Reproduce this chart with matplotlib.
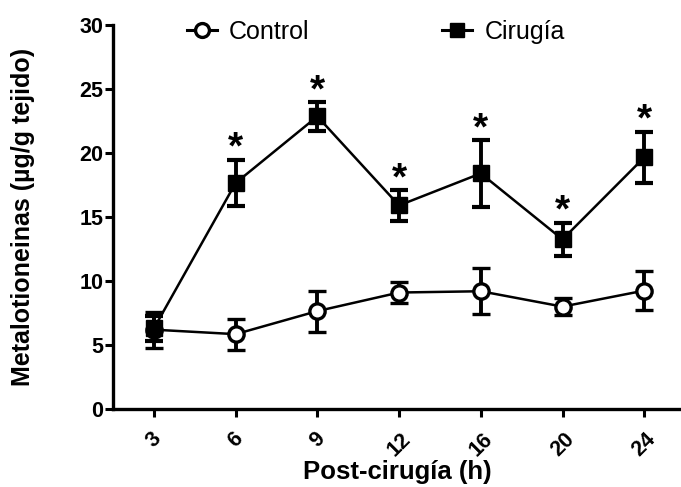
import matplotlib
matplotlib.use("Agg")
import matplotlib.pyplot as plt
from matplotlib.lines import Line2D

plt.rcParams['font.family'] = ['Liberation Sans', 'DejaVu Sans']

hours = ["3", "6", "9", "12", "16", "20", "24"]
control_mean = [6.2, 5.85, 7.65, 9.1, 9.2, 8.0, 9.25]
control_err = [1.4, 1.2, 1.6, 0.8, 1.8, 0.65, 1.55]
cirugia_mean = [6.3, 17.65, 22.85, 15.9, 18.4, 13.25, 19.65]
cirugia_err = [0.95, 1.8, 1.1, 1.2, 2.6, 1.3, 2.0]
significant = [False, True, True, True, True, True, True]

x = list(range(len(hours)))

fig = plt.figure(figsize=(6.81, 4.87), dpi=100)
ax = fig.add_axes([0.166, 0.160, 0.834, 0.789])

err_kw = dict(color='black', lw=1.8, elinewidth=2.8, capsize=6.5, capthick=3)

ax.errorbar(x, control_mean, yerr=control_err, marker='o', ms=11,
            mfc='white', mec='black', mew=2.4, zorder=3, **err_kw)
ax.errorbar(x, cirugia_mean, yerr=cirugia_err, marker='s', ms=11,
            mfc='black', mec='black', zorder=4, **err_kw)

# asterisks above the surgery error bars
for xi, m, e, s in zip(x, cirugia_mean, cirugia_err, significant):
    if s:
        ax.annotate('*', xy=(xi, m + e), xytext=(0, -5), textcoords='offset points',
                    ha='center', va='bottom', fontsize=28, fontweight='bold')

ax.set_xlim(-0.5, 6.45)
ax.set_ylim(0, 30)
ax.set_yticks([0, 5, 10, 15, 20, 25, 30])
ax.set_xticks(x)
ax.set_xticklabels(hours, rotation=45, ha='center', va='top')

for side in ['top', 'right']:
    ax.spines[side].set_visible(False)
for side in ['left', 'bottom']:
    ax.spines[side].set_linewidth(2.4)

ax.tick_params(axis='both', width=2.2, length=6, direction='out', labelsize=15.5)
for lbl in ax.get_xticklabels() + ax.get_yticklabels():
    lbl.set_fontweight('bold')
ax.tick_params(axis='x', pad=8)
ax.tick_params(axis='y', pad=1)

ax.set_xlabel('Post-cirugía (h)', fontsize=18.5, fontweight='bold', labelpad=0)
ax.set_ylabel('Metalotioneinas (µg/g tejido)', fontsize=18, fontweight='bold', labelpad=32)

handles = [
    Line2D([], [], color='black', lw=2.2, marker='o', ms=10, mfc='white', mec='black', mew=2.4),
    Line2D([], [], color='black', lw=2.2, marker='s', ms=10, mfc='black', mec='black'),
]
fig.legend(handles, ['Control', 'Cirugía'], loc='center', bbox_to_anchor=(0.552, 0.934),
           ncol=2, frameon=False, fontsize=18, handlelength=1.2, handletextpad=0.5,
           columnspacing=5.3)

fig.savefig('out.png', dpi=100)
